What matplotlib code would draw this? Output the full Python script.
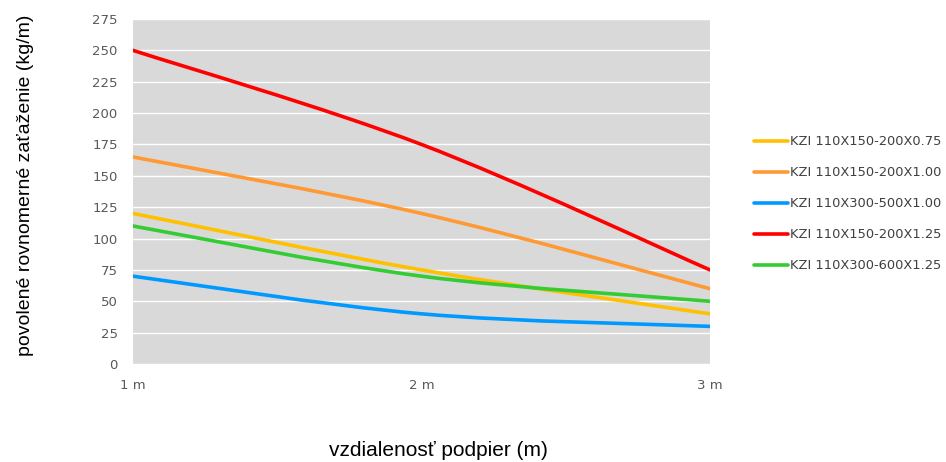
import numpy as np
import matplotlib.pyplot as plt
from matplotlib.path import Path
from matplotlib.patches import PathPatch
from matplotlib.lines import Line2D

x = [1, 2, 3]
x_labels = ['1 m', '2 m', '3 m']
names = ['KZI 110X150-200X0.75', 'KZI 110X150-200X1.00', 'KZI 110X300-500X1.00',
         'KZI 110X150-200X1.25', 'KZI 110X300-600X1.25']
yellow = [120, 75, 40]
orange = [165, 120, 60]
blue = [70, 40, 30]
red = [250, 175, 75]
green = [110, 70, 50]
colors = ['#FFC000', '#FF9933', '#0099FF', '#FF0000', '#33CC33']
series = [yellow, orange, blue, red, green]


def smooth_path(xs, ys):
    # excel-like smoothed line, bezier through the points
    p = np.column_stack([xs, ys]).astype(float)
    pts = np.vstack([p[0], p, p[-1]])
    verts = [p[0]]
    codes = [Path.MOVETO]
    for i in range(1, len(pts) - 2):
        c1 = pts[i] + (pts[i + 1] - pts[i - 1]) / 6
        c2 = pts[i + 1] - (pts[i + 2] - pts[i]) / 6
        verts += [c1, c2, pts[i + 1]]
        codes += [Path.CURVE4] * 3
    return Path(verts, codes)


fig = plt.figure(figsize=(9.46, 4.62), dpi=100)
ax = fig.add_axes([0.1406, 0.2121, 0.6099, 0.7468])
ax.set_facecolor('#D9D9D9')

handles = []
for ys, c, n in zip(series, colors, names):
    ax.add_patch(PathPatch(smooth_path(x, ys), facecolor='none', edgecolor=c,
                           lw=2.6, capstyle='round', zorder=3))
    handles.append(Line2D([], [], color=c, lw=2.6, solid_capstyle='round', label=n))

ax.set_xlim(1, 3)
ax.set_ylim(0, 275)
ax.set_yticks(np.arange(0, 276, 25))
ax.set_xticks(x)
ax.set_xticklabels(x_labels)
ax.grid(axis='y', color='white', lw=1)
ax.set_axisbelow(True)
for s in ax.spines.values():
    s.set_visible(False)
ax.tick_params(length=0, colors='#595959', labelsize=9.5)
ax.tick_params(axis='x', pad=11)
ax.tick_params(axis='y', pad=11)

ax.set_ylabel('povolené rovnomerné zaťaženie (kg/m)', fontsize=14, family='Liberation Sans')
ax.yaxis.set_label_coords(-0.172, 0.519)
ax.set_xlabel('vzdialenosť podpier (m)', fontsize=15, family='Liberation Sans')
ax.xaxis.set_label_coords(0.530, -0.223)

leg = fig.legend(handles=handles, loc='upper left', bbox_to_anchor=(0.785, 0.733),
                 frameon=False, fontsize=9.4, handlelength=2.6, handletextpad=0.12,
                 labelspacing=1.38, labelcolor='#404040')

fig.savefig('out.png', dpi=100)
